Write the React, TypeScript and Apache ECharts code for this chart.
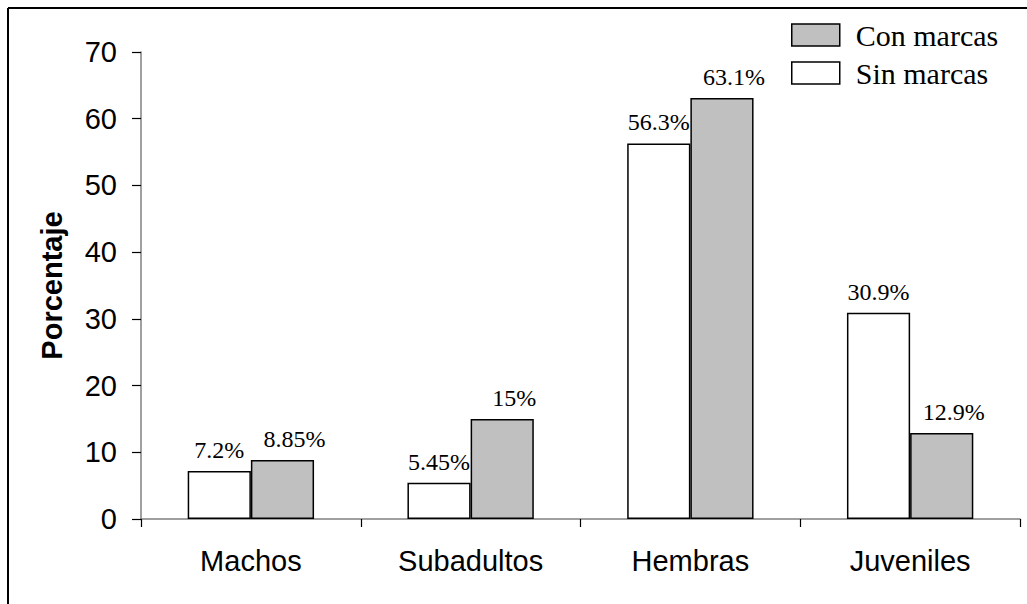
import React, { useEffect, useRef } from "react";
import * as echarts from "echarts";

const categories = ["Machos", "Subadultos", "Hembras", "Juveniles"];
const sinMarcas = [7.2, 5.45, 56.3, 30.9];
const conMarcas = [8.85, 15, 63.1, 12.9];
const yTicks = [0, 10, 20, 30, 40, 50, 60, 70];

const SANS = "'Liberation Sans', Arial, sans-serif";
const SERIF = "'Liberation Serif', 'Times New Roman', serif";

export default function App() {
  const ref = useRef<HTMLDivElement>(null);
  useEffect(() => {
    if (!ref.current) return;
    const chart = echarts.init(ref.current, null, { renderer: "svg" });
    const valueLabel = {
      show: true,
      position: "top",
      distance: 9,
      formatter: "{c}%",
      fontFamily: SERIF,
      fontSize: 24,
      color: "#000",
    };
    chart.setOption({
      animation: false,
      backgroundColor: "#fff",
      grid: { left: 141, right: 7, top: 52, bottom: 85 },
      graphic: [
        { type: "line", shape: { x1: 8, y1: 8, x2: 1030, y2: 8 }, style: { stroke: "#000", lineWidth: 2 } },
        { type: "line", shape: { x1: 8, y1: 8, x2: 8, y2: 610 }, style: { stroke: "#000", lineWidth: 2 } },
      ],
      legend: {
        orient: "vertical",
        left: 791,
        top: 20,
        padding: 0,
        itemWidth: 48,
        itemHeight: 22,
        itemGap: 8,
        icon: "rect",
        data: [
          { name: "Con marcas", itemStyle: { color: "#c0c0c0", borderColor: "#000", borderWidth: 1.5 } },
          { name: "Sin marcas", itemStyle: { color: "#fff", borderColor: "#000", borderWidth: 1.5 } },
        ],
        textStyle: { fontFamily: SERIF, fontSize: 30, color: "#000", padding: [3, 0, 0, 11] },
      },
      xAxis: {
        type: "category",
        data: categories,
        axisLine: { lineStyle: { color: "#808080", width: 1.5 } },
        axisTick: { show: true, length: 8, lineStyle: { color: "#000", width: 1.2 } },
        axisLabel: { fontFamily: SANS, fontSize: 29, color: "#000", margin: 27 },
      },
      yAxis: {
        type: "value",
        min: 0,
        max: 70,
        interval: 10,
        name: "Porcentaje",
        nameLocation: "middle",
        nameGap: 75,
        nameTextStyle: { fontFamily: SANS, fontSize: 29, fontWeight: "bold", color: "#000" },
        axisLine: { show: true, lineStyle: { color: "#808080", width: 1.5 } },
        axisTick: { show: true, length: 9, lineStyle: { color: "#000", width: 1.2 } },
        axisLabel: {
          fontFamily: SANS,
          fontSize: 29,
          color: "#000",
          margin: 24,
          formatter: (v: number) => (yTicks.includes(v) ? String(v) : ""),
        },
        splitLine: { show: false },
      },
      series: [
        {
          name: "Sin marcas",
          type: "bar",
          data: sinMarcas,
          barGap: "0%",
          barCategoryGap: "42.5%",
          itemStyle: { color: "#fff", borderColor: "#000", borderWidth: 1.5 },
          label: valueLabel,
        },
        {
          name: "Con marcas",
          type: "bar",
          data: conMarcas,
          barGap: "0%",
          barCategoryGap: "42.5%",
          itemStyle: { color: "#c0c0c0", borderColor: "#000", borderWidth: 1.5 },
          label: { ...valueLabel, offset: [12, 0] },
        },
      ],
    });
    return () => chart.dispose();
  }, []);
  return (
    <div
      ref={ref}
      style={{ position: "fixed", left: 0, top: 0, width: 1027, height: 604, background: "#fff" }}
    />
  );
}
